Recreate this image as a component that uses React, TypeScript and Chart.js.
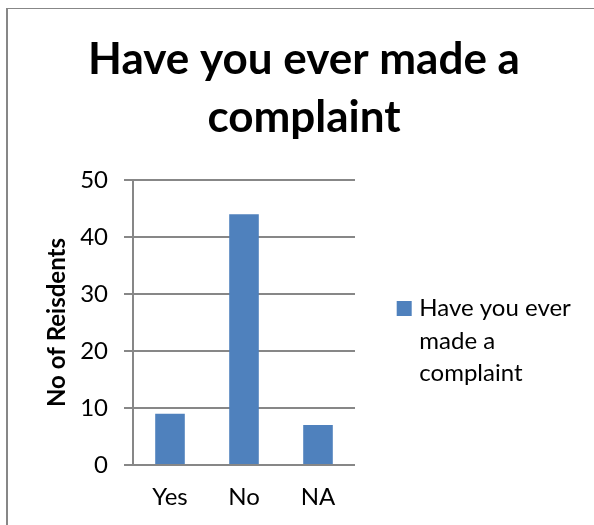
import React, { useEffect, useRef } from "react";
import { Chart, registerables } from "chart.js";

Chart.register(...registerables);

const categories: string[] = ["Yes", "No", "NA"];
const seriesName = "Have you ever made a complaint";
const seriesLegendLines: string[] = ["Have you ever", "made a", "complaint"];
const values: number[] = [9, 44, 7];
const titleLines: string[] = ["Have you ever made a", "complaint"];
const yAxisTitle = "No of Reisdents";
const yMin = 0;
const yMax = 50;
const yStep = 10;

const BAR_COLOR = "#4F81BD";
const GRID_COLOR = "#878787";
const FONT = "Lato, 'Open Sans', sans-serif";
const LABEL_SIZE = 24;

// target plot-area frame
const PLOT_LEFT = 133;
const PLOT_RIGHT = 355;
const TITLE_CENTER_SHIFT = 14; // title is centred 7px right of canvas centre
const Y_TITLE_CENTER = 57;

export default function App() {
  const canvasRef = useRef<HTMLCanvasElement | null>(null);

  useEffect(() => {
    if (!canvasRef.current) return;
    const legendPad = 46.1;
    const boxSize = 6.2;
    const padRight = 22;
    const padLeft = padRight + TITLE_CENTER_SHIFT;

    const chart: any = new Chart(canvasRef.current, {
      type: "bar",
      data: {
        labels: categories,
        datasets: [
          {
            label: seriesName,
            data: values,
            backgroundColor: BAR_COLOR,
            borderWidth: 0,
            barPercentage: 0.4,
            categoryPercentage: 1,
          },
        ],
      },
      options: {
        animation: false,
        responsive: false,
        maintainAspectRatio: false,
        layout: { padding: { left: padLeft, right: padRight, top: 14, bottom: 0 } },
        plugins: {
          tooltip: { enabled: false },
          title: {
            display: true,
            text: titleLines,
            color: "#000",
            font: { family: FONT, size: 44, weight: "bold", lineHeight: "58px" },
            padding: { top: 17, bottom: 33 },
          },
          legend: {
            display: true,
            position: "right",
            align: "center",
            fullSize: false,
            maxWidth: 400,
            title: {
              display: true,
              text: "",
              font: { size: 10, lineHeight: "12px" },
              padding: { top: 33.3, bottom: 0 },
            },
            labels: {
              color: "#000",
              font: { family: FONT, size: LABEL_SIZE, lineHeight: "32.5px" },
              boxWidth: boxSize,
              boxHeight: boxSize,
              padding: legendPad,
              generateLabels: () => [
                {
                  text: seriesLegendLines as any,
                  fillStyle: BAR_COLOR,
                  strokeStyle: BAR_COLOR,
                  fontColor: "#000",
                  lineWidth: 8.8,
                  lineJoin: "miter",
                  hidden: false,
                  datasetIndex: 0,
                } as any,
              ],
            },
          },
        },
        scales: {
          x: {
            grid: { display: false, drawTicks: false },
            border: { display: false },
            ticks: {
              color: "#000",
              font: { family: FONT, size: LABEL_SIZE },
              padding: 17.6,
            },
            afterFit: (scale: any) => {
              scale.height = 60;
            },
          },
          y: {
            min: yMin,
            max: yMax,
            grid: {
              color: GRID_COLOR,
              lineWidth: 2,
              tickLength: 9,
              drawTicks: true,
            },
            border: { display: true, color: GRID_COLOR, width: 2 },
            ticks: {
              stepSize: yStep,
              color: "#000",
              font: { family: FONT, size: LABEL_SIZE },
              padding: 16,
            },
            title: {
              display: true,
              text: yAxisTitle,
              color: "#000",
              font: { family: FONT, size: 24, weight: "bold", lineHeight: 1 },
              padding: { top: Math.max(0, Y_TITLE_CENTER - padLeft - 12), bottom: 0 },
            },
            afterFit: (scale: any) => {
              scale.width = PLOT_LEFT - scale.chart.options.layout.padding.left;
            },
          },
        },
      },
    });

    // align the plot area's right edge with the target frame
    const dx = chart.chartArea.right - PLOT_RIGHT;
    if (Math.abs(dx) > 0.5) {
      const p = chart.options.layout.padding;
      p.right = Math.max(0, p.right + dx);
      p.left = p.right + TITLE_CENTER_SHIFT;
      chart.options.scales.y.title.padding = {
        top: Math.max(0, Y_TITLE_CENTER - p.left - 12),
        bottom: 0,
      };
      chart.update();
    }
    return () => chart.destroy();
  }, []);

  return (
    <div style={{ position: "fixed", left: 0, top: 0, width: 594, height: 525, background: "#fff" }}>
      <canvas ref={canvasRef} width={594} height={525} style={{ display: "block" }} />
      <div
        style={{
          position: "absolute",
          left: 6,
          top: 8,
          width: 700,
          height: 700,
          borderLeft: "2px solid #878787",
          borderTop: "1px solid #878787",
          pointerEvents: "none",
        }}
      />
    </div>
  );
}
